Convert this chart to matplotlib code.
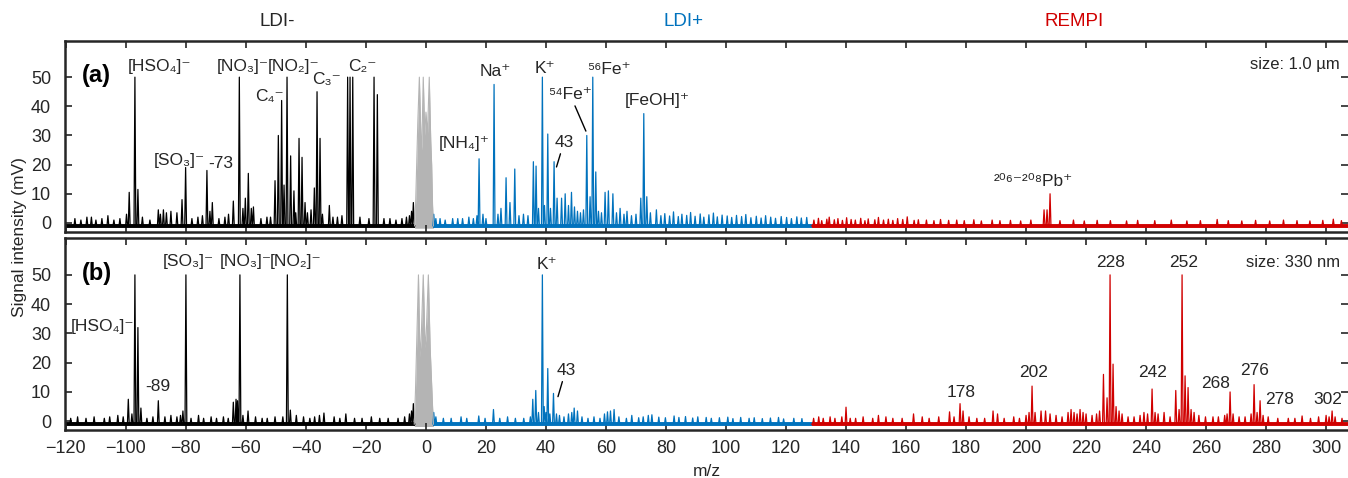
import matplotlib
matplotlib.use('Agg')
import matplotlib.pyplot as plt
import matplotlib.transforms as mtrans
import numpy as np

plt.rcParams['font.family'] = ['Liberation Sans', 'DejaVu Sans']
plt.rcParams['font.size'] = 12

TXT = '#262626'
BLACK = '#000000'
BLUE = '#0072BD'
RED = '#D00000'
GREY = '#B4B4B4'

# ---- panel (a): size 1.0 um ----
a_neg_mz = [-117, -115, -113, -111.5, -110, -108, -106, -104, -102, -99.8, -98.9, -97, -96, -94.5, -92,
            -89.2, -88.5, -87.5, -86.5, -85, -83, -81.3, -80.1, -78, -76, -74.5, -73, -72, -71.2, -69,
            -67, -65.8, -64.2, -62.2, -61, -60.2, -59.2, -58.2, -57.5, -55, -53, -51.8, -50.3, -49.2,
            -48.1, -47.3, -46.3, -45.1, -44, -43.4, -42.3, -41.3, -40.3, -39.5, -38.3, -37.2, -36.3,
            -35.3, -34.5, -32.2, -31, -29.5, -28, -26.1, -25.3, -24.4, -22, -19, -17.3, -16.2, -14,
            -12, -10, -8, -6.5, -5.5, -4.8, -4.2]
a_neg_int = [1.5, 1, 2, 2, 1, 1.5, 2.5, 1, 1.5, 3, 10.5, 50, 11.5, 2, 1,
             4.5, 3, 4.5, 3.5, 4, 3.5, 8, 19, 1.5, 2, 2.5, 18, 4, 7, 1.5,
             2, 3, 7.5, 50, 5, 8.5, 17, 5, 5.5, 1.5, 2, 2, 14.5, 30,
             42, 13, 50, 23, 11, 3.5, 29, 22.5, 7, 3.5, 4.5, 12, 45,
             29, 3, 6, 2, 2, 2.5, 50, 50, 50, 2, 1.5, 50, 44, 1.5,
             1.5, 1, 1.5, 2, 2.5, 4, 7]

a_pos_mz = [2.6, 3.3, 4.7, 6.4, 8.9, 10.6, 12.2, 14.3, 15.8, 17, 17.7, 19, 20, 22.7, 24, 25, 26.7, 28,
            29.6, 31, 32.5, 34, 35.8, 36.7, 37.5, 38.8, 39.5, 40.6, 41.5, 42.7, 43.7, 45.2, 46.4, 47.5,
            48.5, 49.5, 50.5, 51.5, 52.5, 53.6, 54.7, 55.6, 56.6, 57.5, 58.5, 59.7, 60.8, 62.3, 63.5,
            64.7, 66, 67, 68.5, 70, 71.6, 72.6, 73.6,
            74.8, 76.8, 78.3, 79.6, 81.2, 82.5, 84.1, 85.3, 86.9, 88.2, 89.7, 91.4, 92.6, 94.3, 95.8,
            97.1, 98.7, 100.4, 101.9, 103.5, 105.2, 106.6, 108.3, 110.1, 111.7, 113.2, 114.9, 116.5,
            118.4, 120.2, 121.8, 123.6, 125.1, 126.9]
a_pos_int = [3, 1.5, 1.5, 1, 1.5, 1.5, 1.5, 2, 1.5, 2.5, 22, 3, 1.5, 47.5, 3, 5, 15.5, 7,
             18.5, 2.5, 3, 2.5, 21, 19.5, 5, 50, 6, 30.5, 5, 21, 8.5, 8.5, 10, 6,
             10.5, 5.5, 4, 3.5, 4.5, 30, 9, 50, 17.5, 4, 3.5, 10.5, 11, 10, 3.5,
             5, 3, 4, 2.5, 3, 8.5, 37.5, 9,
             3.5, 4.5, 2.5, 3.2, 2.4, 3.8, 2.2, 3.0, 2.6, 3.6, 2.3, 3.1, 2.0, 2.8, 3.4,
             2.1, 2.7, 2.4, 1.9, 2.6, 2.2, 2.9, 1.8, 2.3, 1.7, 2.5, 2.0, 1.6,
             2.2, 1.9, 1.5, 2.1, 1.7, 1.9]

a_rempi_mz = [129.3, 130.8, 131.9, 133.6, 134.4, 136.1, 137.3, 138.8, 140.2, 141.7, 143.1, 144.9, 146.3,
              147.4, 149.6, 150.8, 152.5, 154.1, 155.6, 157.2, 158.9, 160.4, 162.7, 164.1, 166.8, 169.3,
              171.5, 174.2, 176.9, 179.4, 182.6, 185.1, 188.7, 191.3, 194.8, 198.2, 201.6, 206, 207, 208,
              211.3, 215.8, 219.4, 223.7, 228.1, 233.5, 237.2, 242.9, 248.4, 253.6, 258.1, 263.7, 267.4,
              271.9, 276.5, 281.2, 285.8, 290.3, 294.6, 298.9, 302.4, 305.1]
a_rempi_int = [1, 1.6, 0.8, 1.3, 2.0, 1.1, 1.5, 0.9, 1.8, 1.2, 1.0, 1.6, 0.8,
               1.4, 1.1, 1.9, 1.0, 1.3, 0.9, 1.5, 1.2, 2.1, 0.9, 1.1, 1.0, 0.8,
               1.2, 0.9, 1.0, 0.8, 1.1, 0.7, 1.0, 0.8, 0.9, 0.7, 1.0, 4.5, 4.5, 10,
               0.8, 1.0, 0.7, 0.9, 0.8, 0.7, 0.9, 0.8, 1.0, 0.7, 0.8, 1.2, 0.8,
               0.7, 0.9, 0.7, 1.0, 0.8, 0.7, 0.9, 1.3, 0.8]

a_grey_mz = [-3.8, -3.4, -2.7, -2.2, -1.7, -1.4, -0.9, -0.4, 0.0, 0.5, 1.1, 1.6, 1.9, 2.2, 2.5]
a_grey_int = [-1, 8, 35, 50, 30, 25, 50, 30, 38, 30, 50, 28, 20, 6, -1]

# ---- panel (b): size 330 nm ----
b_neg_mz = [-118.4, -116.1, -113.3, -110.6, -107.2, -105.4, -102.7, -100.9, -99.2, -98, -97, -96, -95,
            -93, -91, -89.2, -87, -85, -83, -81.8, -81, -80, -78.3, -75.8, -74.1, -71.6, -69.8, -67.5,
            -65.9, -64.2, -63.3, -62.8, -62, -61, -59.3, -56.8, -54.6, -52.9, -50.3, -47.7, -46.2,
            -45.2, -43.2, -40.8, -38.7, -37.1, -35.5, -34, -30.6, -28.7, -26.7, -23.8, -21.3, -18.2,
            -15.4, -12.6, -9.3, -7.1, -5.5, -4.8, -4.2]
b_neg_int = [1, 1.5, 1, 1.5, 1, 1.5, 2, 1.5, 7.5, 2.5, 50, 32, 4.5,
             1, 1.5, 7, 1.5, 2, 1.5, 2, 3.5, 50, 1, 2, 1, 1.5, 1, 1.5,
             1, 6.5, 7.5, 7, 50, 2, 3.5, 1.5, 1, 1, 1.5, 1.5, 50,
             3.8, 2, 1.5, 1, 1.5, 2, 2.8, 1.5, 1, 2.5, 1, 1, 1.5,
             1, 1, 1, 1.5, 2.5, 3.5, 6]

b_pos_mz = [2.6, 3.3, 5.8, 8.4, 11.7, 13.6, 17.6, 19.7, 22.5, 24.6, 27.2, 29.8, 32.6, 34.8, 35.6, 36.6,
            37.5, 38.8, 39.4, 40, 40.6, 41.3, 42.5, 43.5, 44.5, 46, 47.5, 48.6, 49.4, 50.5, 52, 54, 56,
            58, 59.5, 60.5, 61.5, 62.7,
            64.3, 66.8, 68.6, 70.9, 72.4, 74.1, 75.3, 77.6, 79.8, 82.7, 84.3, 86.5, 88.9, 90.6, 93.4,
            95.1, 97.8, 100.6, 102.3, 104.9, 107.7, 109.4, 112.1, 114.8, 117.5, 119.2, 122.6, 125.3]
b_pos_int = [3, 1.5, 1, 1, 1.5, 1, 1.8, 1, 4, 1, 1.5, 1, 1, 1.5, 7.5, 10.5,
             3, 50, 5, 3, 18, 2.5, 9.5, 2.5, 2, 1.5, 2.5, 3, 4.5, 3.5, 1.5, 1, 1.5,
             1, 2.5, 3.2, 3.5, 4,
             1.5, 1.0, 2.0, 1.2, 1.5, 2.0, 2.2, 1.4, 1.2, 1.8, 1.3, 1.6, 1.1, 1.5, 1.3,
             1.0, 1.2, 1.4, 0.9, 1.3, 1.0, 1.2, 0.9, 1.1, 1.3, 0.8, 1.0, 0.9]

b_rempi_mz = [129.2, 130.9, 132.4, 134.7, 136.3, 138.6, 140, 141.4, 143.2, 145.7, 148.9, 150.8, 153.3,
              155.6, 158.7, 162.5, 165.4, 167.7, 170.9, 174.5, 176, 178, 179, 181, 183.6, 186.2, 189,
              190.5, 192.7, 195.9, 197.8, 200, 201, 202, 203, 205, 206.5, 208, 210, 212, 214, 215, 216,
              217, 218, 219, 220, 222, 223.5, 224.5, 225.8, 227, 228, 229, 230, 231, 232, 234, 236, 238,
              239.3, 240.5, 242, 243, 244, 246, 248, 249.9, 251, 252, 253, 254, 255, 256, 257.6, 259.8,
              262.3, 264.1, 266.2, 267, 268, 269, 271, 273, 275, 276, 277, 278, 279, 280.7, 283.9, 287.4,
              289.6, 292, 294.8, 297.5, 300, 301, 302, 303, 305.3]
b_rempi_int = [1, 1.5, 1, 1.5, 1, 1.5, 4.8, 1, 1, 1.5, 1, 2, 1.5,
               1, 1, 2.5, 1.5, 1, 1.5, 3.2, 1.5, 6, 3.5, 1.5, 1, 1, 3.5,
               2.5, 1, 1.5, 1, 2, 3, 12, 3, 3.5, 3.5, 2.5, 2, 1.5, 3, 4, 3,
               2.5, 4, 3, 2.5, 2, 2.5, 3.5, 16, 8, 50, 19.5, 5, 3.5, 2.5, 1.5, 1.5, 2,
               3, 2.5, 11, 3, 2.5, 3, 1.5, 10.5, 4, 50, 15.5, 11.5, 4, 3, 2, 1.5,
               1.5, 1.5, 2, 2.5, 10, 2.5, 1.5, 1.5, 2.5, 12.5, 3, 7, 2, 1.5, 1, 1,
               1, 1.8, 1, 1.5, 2, 1.5, 3.5, 1.5, 1]

b_grey_mz = [-3.9, -3.5, -3.0, -2.5, -2.0, -1.6, -0.9, -0.3, 0.1, 0.8, 1.4, 1.8, 2.2, 2.5]
b_grey_int = [-1, 10, 30, 50, 22, 28, 50, 25, 30, 50, 25, 15, 5, -1]

seg_neg = (-120.3, -3.7)
seg_pos = (2.4, 128.5)
seg_rempi = (128.5, 307.3)

# annotations (text, m/z, intensity)
a_labels = [('[HSO₄]⁻', -88.7, 53.7), ('[NO₃]⁻', -61.1, 53.7), ('[NO₂]⁻', -44.1, 53.7),
            ('C₃⁻', -33.1, 49.2), ('C₂⁻', -21.2, 53.7), ('C₄⁻', -52.3, 43.5),
            ('[SO₃]⁻', -82.2, 21.5), ('-73', -68.3, 20.4), ('[NH₄]⁺', 12.9, 27.1),
            ('Na⁺', 23, 51.8), ('K⁺', 39.8, 53.1), ('⁵⁶Fe⁺', 61, 52.6), ('[FeOH]⁺', 77, 42),
            ('²⁰⁶⁻²⁰⁸Pb⁺', 202.5, 14.1)]
b_labels = [('[HSO₄]⁻', -107.8, 32.2), ('-89', -89.4, 11.8), ('[SO₃]⁻', -79.3, 54.6),
            ('[NO₃]⁻', -60.2, 54.6), ('[NO₂]⁻', -43.4, 54.6), ('K⁺', 40.3, 53.4),
            ('228', 228.3, 54.4), ('252', 252.5, 54.4), ('202', 202.5, 16.7), ('178', 178.3, 9.8),
            ('242', 242.2, 16.7), ('268', 263.2, 12.9), ('276', 276.3, 17.5), ('278', 284.5, 7.5),
            ('302', 300.5, 7.5)]
# (text, text position, peak position)
a_pointers = [('⁵⁴Fe⁺', (48, 44.1), (53.3, 31.5)), ('43', (46, 27.7), (43.5, 19.2))]
b_pointers = [('43', (46.6, 17.5), (44.0, 8.4))]


def stick_line(mz, inten, lo, hi, base=-1.0, w=0.3):
    order = np.argsort(mz)
    xs, ys = [lo], [base]
    for i in order:
        xs += [mz[i] - w, mz[i], mz[i] + w]
        ys += [base, inten[i], base]
    xs.append(hi)
    ys.append(base)
    return xs, ys


def draw_panel(ax, neg, pos, rempi, grey, labels, pointers, tag, size_txt):
    for (mz, inten), seg, col in [(neg, seg_neg, BLACK), (pos, seg_pos, BLUE), (rempi, seg_rempi, RED)]:
        xs, ys = stick_line(mz, inten, seg[0], seg[1])
        ax.plot(seg, [-1, -1], color=col, lw=2.8, solid_capstyle='butt')
        ax.plot(xs, ys, color=col, lw=0.9)
    ax.fill_between(grey[0], -1.8, grey[1], color=GREY, lw=0)
    ax.plot(grey[0], grey[1], color=GREY, lw=0.8)
    for t, x, y in labels:
        ax.text(x, y, t, ha='center', va='center', fontsize=12.5, color=TXT)
    for t, xyt, xy in pointers:
        ax.annotate(t, xy=xy, xytext=xyt, ha='center', va='center', fontsize=12.5, color=TXT,
                    arrowprops=dict(arrowstyle='-', color=BLACK, lw=1.0, shrinkA=1, shrinkB=0))
    ax.text(-114.8, 50.5, tag, fontsize=17, fontweight='bold', color=BLACK,
            ha='left', va='center')
    ax.text(304.7, 54.3, size_txt, ha='right', va='center', fontsize=12, color=TXT)

    ax.set_xlim(-120.3, 307.3)
    ax.set_ylim(-3, 62.5)
    ax.set_yticks([0, 10, 20, 30, 40, 50])
    ax.set_xticks(np.arange(-120, 301, 20))
    ax.tick_params(direction='in', top=True, right=True, bottom=True, length=5, width=1.2,
                   colors=TXT, labelsize=13)
    ax.tick_params(axis='y', pad=10)
    ax.tick_params(axis='x', pad=7)
    ax.spines['right'].set_visible(False)
    for s in ['top', 'bottom', 'left']:
        ax.spines[s].set_linewidth(1.8)
        ax.spines[s].set_color(TXT)


fig = plt.figure(figsize=(13.48, 4.78), dpi=100)
W, H = 1348.0, 478.0
ax1 = fig.add_axes([65 / W, 1 - 231.7 / H, 1 - 65 / W, (231.7 - 40.7) / H])
ax2 = fig.add_axes([65 / W, 1 - 430 / H, 1 - 65 / W, (430 - 238.3) / H])

draw_panel(ax1, (a_neg_mz, a_neg_int), (a_pos_mz, a_pos_int), (a_rempi_mz, a_rempi_int),
           (a_grey_mz, a_grey_int), a_labels, a_pointers, '(a)', 'size: 1.0 µm')
draw_panel(ax2, (b_neg_mz, b_neg_int), (b_pos_mz, b_pos_int), (b_rempi_mz, b_rempi_int),
           (b_grey_mz, b_grey_int), b_labels, b_pointers, '(b)', 'size: 330 nm')
ax1.tick_params(axis='x', labelbottom=False)
ax2.set_xlabel('m/z', fontsize=12.5, color=TXT, labelpad=5)

tr = mtrans.blended_transform_factory(ax1.transData, fig.transFigure)
for t, x, c in [('LDI-', -49.7, TXT), ('LDI+', 86, BLUE), ('REMPI', 216, RED)]:
    fig.text(x, 1 - 21.7 / H, t, transform=tr, ha='center', va='center', fontsize=13.5, color=c)

fig.text(20 / W, 1 - 237 / H, 'Signal intensity (mV)', rotation=90, ha='center', va='center',
         fontsize=12.5, color=TXT)

fig.savefig('out.png', dpi=100)
